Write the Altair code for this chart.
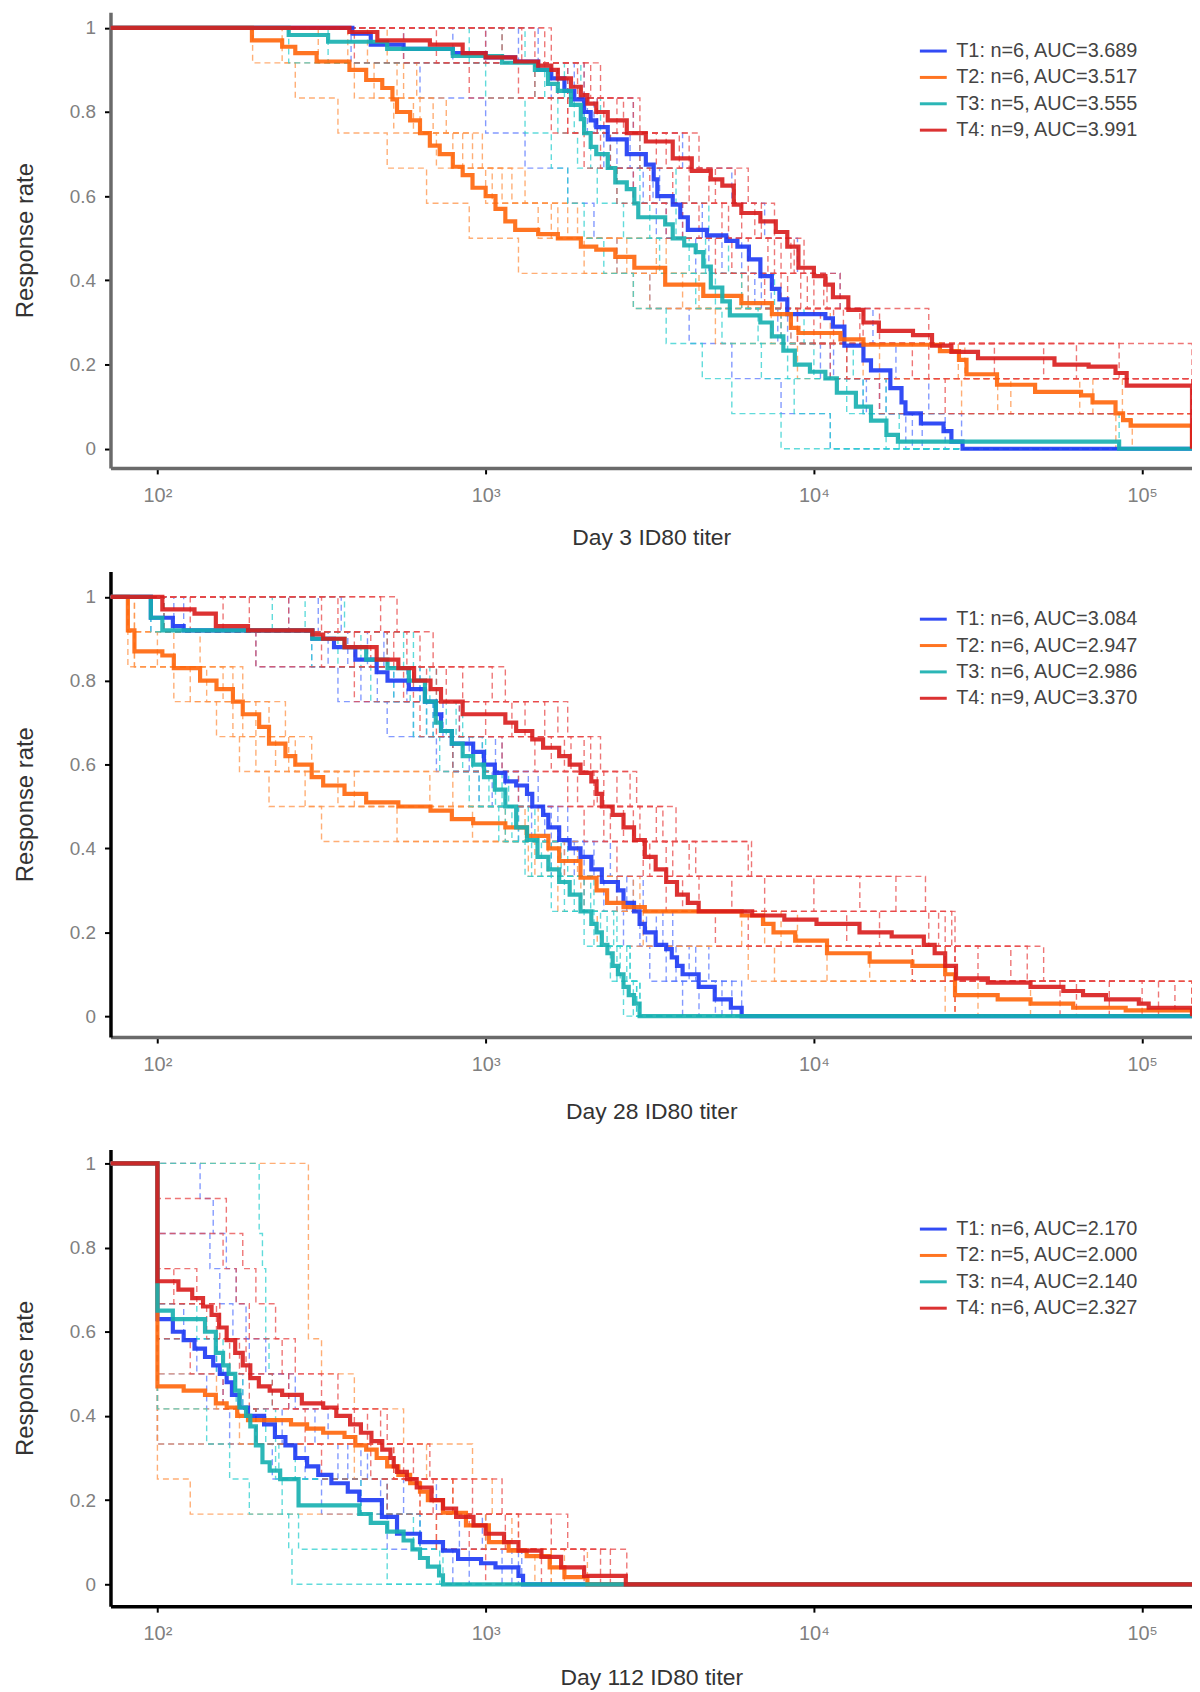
import altair as alt
import pandas as pd

# x positions are log10(ID80 titer); the plot spans these log10 limits
X_MIN, X_MAX = 1.857, 5.152

GROUPS = ["T1", "T2", "T3", "T4"]
MEAN_COLORS = ["#1c38f4", "#ff650a", "#15afaf", "#d81c1c"]
DASH_COLORS = ["#5a78ff", "#ff9347", "#2ccfcf", "#e84848"]

P1_LABELS = ["T1: n=6, AUC=3.689", "T2: n=6, AUC=3.517", "T3: n=5, AUC=3.555", "T4: n=9, AUC=3.991"]
P2_LABELS = ["T1: n=6, AUC=3.084", "T2: n=6, AUC=2.947", "T3: n=6, AUC=2.986", "T4: n=9, AUC=3.370"]
P3_LABELS = ["T1: n=6, AUC=2.170", "T2: n=5, AUC=2.000", "T3: n=4, AUC=2.140", "T4: n=6, AUC=2.327"]
X_TITLES = ["Day 3 ID80 titer", "Day 28 ID80 titer", "Day 112 ID80 titer"]

# ---------------- Panel 1 (Day 3): group curves (log10 titer at each drop, level after drop)
P1_T1_X = [2.594, 2.65, 2.75, 2.90, 3.00, 3.09, 3.16, 3.20, 3.24, 3.27, 3.30, 3.32, 3.337, 3.372, 3.43,
           3.488, 3.512, 3.523, 3.57, 3.593, 3.616, 3.674, 3.733, 3.767, 3.802, 3.837, 3.872, 3.895, 3.919,
           4.035, 4.058, 4.093, 4.151, 4.174, 4.233, 4.267, 4.279, 4.326, 4.395, 4.419, 4.453]
P1_T1_Y = [0.986, 0.96, 0.95, 0.94, 0.93, 0.92, 0.90, 0.88, 0.85, 0.83, 0.80, 0.78, 0.764, 0.735, 0.70,
           0.675, 0.64, 0.60, 0.58, 0.55, 0.52, 0.507, 0.494, 0.48, 0.45, 0.41, 0.38, 0.355, 0.32,
           0.31, 0.29, 0.245, 0.21, 0.186, 0.144, 0.11, 0.084, 0.06, 0.042, 0.017, 0.0]
P1_T2_X = [2.288, 2.38, 2.42, 2.485, 2.585, 2.636, 2.685, 2.716, 2.73, 2.77, 2.80, 2.83, 2.86, 2.90, 2.93,
           2.96, 3.00, 3.03, 3.06, 3.09, 3.16, 3.22, 3.29, 3.337, 3.395, 3.453, 3.547, 3.663, 3.779, 3.872,
           3.930, 3.953, 4.081, 4.151, 4.384, 4.442, 4.465, 4.558, 4.674, 4.814, 4.849, 4.919, 4.942, 4.965, 5.152]
P1_T2_Y = [0.97, 0.955, 0.94, 0.92, 0.90, 0.876, 0.857, 0.83, 0.80, 0.78, 0.75, 0.72, 0.70, 0.67, 0.65,
           0.62, 0.60, 0.57, 0.54, 0.52, 0.51, 0.50, 0.48, 0.473, 0.456, 0.43, 0.39, 0.363, 0.346, 0.32,
           0.287, 0.275, 0.26, 0.247, 0.232, 0.211, 0.177, 0.152, 0.135, 0.127, 0.11, 0.084, 0.068, 0.055, 0.0]
P1_T3_X = [2.40, 2.52, 2.70, 2.90, 3.05, 3.15, 3.19, 3.22, 3.26, 3.29, 3.30, 3.32, 3.337, 3.372, 3.395,
           3.43, 3.453, 3.465, 3.547, 3.57, 3.605, 3.64, 3.663, 3.686, 3.721, 3.744, 3.837, 3.872, 3.907,
           3.942, 3.988, 4.035, 4.07, 4.128, 4.174, 4.221, 4.256, 4.93]
P1_T3_Y = [0.983, 0.967, 0.95, 0.933, 0.917, 0.90, 0.867, 0.85, 0.817, 0.783, 0.75, 0.717, 0.70, 0.667, 0.633,
           0.617, 0.583, 0.55, 0.533, 0.50, 0.483, 0.467, 0.433, 0.383, 0.35, 0.317, 0.30, 0.267, 0.233,
           0.20, 0.183, 0.167, 0.133, 0.10, 0.067, 0.033, 0.017, 0.0]
P1_T4_X = [2.585, 2.67, 2.83, 2.93, 3.00, 3.09, 3.16, 3.20, 3.22, 3.26, 3.29, 3.31, 3.337, 3.372, 3.43,
           3.488, 3.57, 3.628, 3.686, 3.721, 3.756, 3.779, 3.837, 3.884, 3.919, 3.953, 4.0, 4.035, 4.058,
           4.105, 4.151, 4.198, 4.302, 4.36, 4.419, 4.5, 4.733, 4.837, 4.919, 4.953, 5.152]
P1_T4_Y = [0.99, 0.97, 0.96, 0.94, 0.93, 0.92, 0.91, 0.90, 0.88, 0.86, 0.84, 0.82, 0.80, 0.78, 0.75,
           0.73, 0.69, 0.66, 0.64, 0.625, 0.58, 0.56, 0.54, 0.515, 0.48, 0.43, 0.41, 0.39, 0.36,
           0.33, 0.30, 0.28, 0.27, 0.245, 0.23, 0.215, 0.20, 0.195, 0.18, 0.15, 0.0]

# Panel 1 individual animals: 12 log10 titers each
P1_T1_IND = [
    [2.59, 2.80, 3.00, 3.12, 3.25, 3.33, 3.40, 3.50, 3.62, 3.75, 3.90, 4.05],
    [3.10, 3.30, 3.45, 3.60, 3.75, 3.85, 3.95, 4.08, 4.18, 4.25, 4.35, 4.45],
    [2.75, 3.20, 3.30, 3.40, 3.48, 3.55, 3.68, 3.82, 3.92, 4.10, 4.22, 4.28],
    [3.16, 3.27, 3.33, 3.38, 3.51, 3.60, 3.78, 3.87, 3.93, 4.02, 4.15, 4.40],
    [2.90, 3.22, 3.31, 3.36, 3.45, 3.52, 3.64, 3.80, 3.89, 4.05, 4.16, 4.33],
    [3.00, 3.25, 3.34, 3.44, 3.53, 3.66, 3.72, 3.84, 3.90, 4.06, 4.20, 4.30],
]
P1_T2_IND = [
    [2.29, 2.42, 2.55, 2.70, 2.82, 2.95, 3.10, 3.45, 3.70, 3.95, 4.45, 4.92],
    [2.38, 2.60, 2.72, 2.85, 3.00, 3.20, 3.40, 3.60, 3.90, 4.10, 4.56, 5.152],
    [2.49, 2.66, 2.78, 2.90, 3.05, 3.25, 3.55, 3.80, 4.05, 4.44, 4.85, 5.152],
    [2.58, 2.73, 2.80, 2.93, 3.02, 3.16, 3.30, 3.50, 3.93, 4.20, 4.94, 5.152],
    [2.64, 2.75, 2.84, 2.96, 3.08, 3.22, 3.43, 3.65, 3.87, 4.15, 4.60, 4.97],
    [2.70, 2.79, 2.88, 2.99, 3.12, 3.28, 3.52, 3.78, 3.95, 4.46, 4.81, 5.152],
]
P1_T3_IND = [
    [2.40, 3.00, 3.12, 3.20, 3.25, 3.30, 3.36, 3.45, 3.55, 3.66, 3.75, 3.90],
    [2.52, 3.15, 3.22, 3.28, 3.34, 3.42, 3.53, 3.64, 3.72, 3.84, 3.94, 4.05],
    [2.95, 3.18, 3.27, 3.32, 3.40, 3.50, 3.62, 3.70, 3.83, 3.92, 4.10, 4.93],
    [3.05, 3.24, 3.30, 3.38, 3.47, 3.58, 3.67, 3.78, 3.90, 4.00, 4.15, 4.22],
    [3.12, 3.29, 3.35, 3.47, 3.58, 3.68, 3.74, 3.88, 3.97, 4.12, 4.22, 4.26],
]
P1_T4_IND = [
    [2.60, 2.95, 3.20, 3.30, 3.40, 3.55, 3.70, 3.85, 3.95, 4.05, 4.20, 5.152],
    [2.85, 3.10, 3.25, 3.35, 3.50, 3.65, 3.80, 3.92, 4.00, 4.10, 4.40, 5.152],
    [3.11, 3.15, 3.25, 3.38, 3.45, 3.60, 3.75, 3.90, 4.02, 5.152, 5.152, 5.152],
    [3.00, 3.22, 3.34, 3.47, 3.57, 3.72, 3.88, 3.98, 4.09, 4.35, 5.152, 5.152],
    [3.18, 3.30, 3.42, 3.55, 3.68, 3.78, 3.90, 4.00, 4.15, 4.70, 5.152, 5.152],
    [3.05, 3.28, 3.36, 3.52, 3.62, 3.74, 3.86, 3.96, 4.06, 4.30, 5.152, 5.152],
    [3.20, 3.32, 3.47, 3.59, 3.76, 3.84, 3.94, 4.04, 4.14, 4.55, 5.152, 5.152],
    [2.75, 3.25, 3.40, 3.62, 3.70, 3.82, 3.93, 4.03, 4.20, 4.80, 5.152, 5.152],
    [3.15, 3.35, 3.45, 3.65, 3.80, 3.88, 3.97, 4.08, 4.35, 4.93, 5.152, 5.152],
]

# ---------------- Panel 2 (Day 28)
P2_T1_X = [1.98, 2.047, 2.08, 2.472, 2.538, 2.603, 2.668, 2.701, 2.766, 2.815, 2.848, 2.864, 2.897, 2.962,
           2.995, 3.028, 3.06, 3.093, 3.126, 3.142, 3.175, 3.191, 3.224, 3.256, 3.289, 3.322, 3.354, 3.403,
           3.42, 3.452, 3.469, 3.485, 3.518, 3.55, 3.567, 3.583, 3.60, 3.649, 3.698, 3.747, 3.78]
P2_T1_Y = [0.95, 0.93, 0.92, 0.90, 0.88, 0.85, 0.82, 0.80, 0.78, 0.75, 0.72, 0.68, 0.65, 0.63,
           0.60, 0.58, 0.56, 0.55, 0.53, 0.50, 0.48, 0.45, 0.42, 0.40, 0.38, 0.35, 0.32, 0.30,
           0.27, 0.25, 0.22, 0.20, 0.17, 0.16, 0.14, 0.12, 0.10, 0.07, 0.04, 0.02, 0.0]
P2_T2_X = [1.91, 1.93, 2.015, 2.05, 2.13, 2.18, 2.23, 2.26, 2.31, 2.34, 2.39, 2.42, 2.47, 2.505, 2.57,
           2.636, 2.734, 2.832, 2.897, 2.962, 3.06, 3.126, 3.191, 3.224, 3.289, 3.338, 3.37, 3.42, 3.485,
           3.78, 3.845, 3.877, 3.943, 4.04, 4.17, 4.30, 4.40, 4.43, 4.56, 4.66, 4.79, 4.95, 5.152]
P2_T2_Y = [0.92, 0.87, 0.86, 0.83, 0.80, 0.78, 0.75, 0.72, 0.69, 0.65, 0.62, 0.60, 0.57, 0.55, 0.53,
           0.51, 0.50, 0.49, 0.47, 0.46, 0.45, 0.43, 0.40, 0.37, 0.33, 0.30, 0.27, 0.26, 0.25,
           0.24, 0.22, 0.20, 0.18, 0.15, 0.13, 0.12, 0.10, 0.05, 0.04, 0.03, 0.02, 0.014, 0.0]
P2_T3_X = [1.98, 2.015, 2.472, 2.57, 2.636, 2.701, 2.766, 2.815, 2.848, 2.864, 2.897, 2.93, 2.962, 2.995,
           3.028, 3.06, 3.093, 3.126, 3.158, 3.191, 3.224, 3.256, 3.289, 3.322, 3.338, 3.354, 3.371, 3.387,
           3.403, 3.42, 3.436, 3.452, 3.469]
P2_T3_Y = [0.95, 0.92, 0.90, 0.88, 0.85, 0.83, 0.80, 0.75, 0.70, 0.68, 0.65, 0.62, 0.60, 0.57,
           0.54, 0.50, 0.45, 0.42, 0.38, 0.35, 0.32, 0.29, 0.25, 0.22, 0.20, 0.17, 0.15, 0.12,
           0.10, 0.07, 0.05, 0.03, 0.0]
P2_T4_X = [2.015, 2.113, 2.178, 2.276, 2.472, 2.505, 2.57, 2.668, 2.734, 2.782, 2.832, 2.864, 2.93, 3.06,
           3.093, 3.142, 3.175, 3.224, 3.256, 3.289, 3.322, 3.338, 3.354, 3.387, 3.42, 3.452, 3.485, 3.518,
           3.55, 3.583, 3.616, 3.649, 3.812, 3.91, 4.008, 4.139, 4.237, 4.335, 4.368, 4.40, 4.433, 4.53,
           4.66, 4.76, 4.82, 4.89, 4.99, 5.02, 5.152]
P2_T4_Y = [0.97, 0.96, 0.93, 0.92, 0.91, 0.90, 0.88, 0.85, 0.83, 0.80, 0.78, 0.75, 0.72, 0.70,
           0.68, 0.66, 0.64, 0.62, 0.60, 0.58, 0.56, 0.53, 0.50, 0.48, 0.45, 0.42, 0.38, 0.35,
           0.32, 0.29, 0.27, 0.25, 0.24, 0.23, 0.22, 0.20, 0.19, 0.17, 0.15, 0.12, 0.09, 0.08,
           0.07, 0.06, 0.05, 0.04, 0.03, 0.02, 0.0]

P2_T1_IND = [
    [1.98, 2.30, 2.55, 2.70, 2.85, 2.98, 3.10, 3.20, 3.30, 3.42, 3.50, 3.60],
    [2.05, 2.47, 2.62, 2.78, 2.90, 3.02, 3.14, 3.24, 3.36, 3.47, 3.55, 3.65],
    [2.08, 2.52, 2.67, 2.82, 2.95, 3.06, 3.18, 3.27, 3.40, 3.49, 3.58, 3.78],
    [2.40, 2.58, 2.72, 2.84, 2.99, 3.10, 3.20, 3.30, 3.43, 3.52, 3.62, 3.70],
    [2.49, 2.64, 2.76, 2.87, 3.03, 3.13, 3.22, 3.33, 3.45, 3.54, 3.64, 3.75],
    [2.56, 2.69, 2.80, 2.92, 3.05, 3.16, 3.25, 3.38, 3.48, 3.57, 3.68, 3.72],
]
P2_T2_IND = [
    [1.91, 1.93, 2.05, 2.18, 2.25, 2.34, 2.50, 3.13, 3.22, 3.34, 3.80, 4.40],
    [1.91, 1.91, 2.10, 2.23, 2.30, 2.45, 2.73, 3.15, 3.29, 3.48, 3.88, 4.43],
    [1.91, 1.93, 2.15, 2.26, 2.36, 2.60, 2.96, 3.19, 3.30, 3.78, 4.04, 4.43],
    [1.91, 2.00, 2.20, 2.30, 2.40, 2.55, 3.06, 3.22, 3.40, 3.85, 4.17, 4.50],
    [1.93, 2.05, 2.23, 2.34, 2.42, 2.83, 3.12, 3.24, 3.45, 3.90, 4.30, 4.66],
    [1.93, 2.13, 2.26, 2.39, 2.47, 2.90, 3.16, 3.28, 3.47, 3.95, 4.40, 5.152],
]
P2_T3_IND = [
    [1.98, 2.47, 2.65, 2.78, 2.86, 2.95, 3.04, 3.12, 3.20, 3.30, 3.38, 3.42],
    [2.02, 2.55, 2.72, 2.82, 2.90, 2.98, 3.06, 3.14, 3.24, 3.33, 3.40, 3.47],
    [2.02, 2.62, 2.77, 2.84, 2.93, 3.01, 3.08, 3.17, 3.27, 3.35, 3.43, 3.45],
    [2.35, 2.70, 2.80, 2.88, 2.96, 3.03, 3.10, 3.20, 3.30, 3.37, 3.41, 3.46],
    [2.45, 2.75, 2.83, 2.91, 2.99, 3.05, 3.13, 3.23, 3.32, 3.39, 3.44, 3.47],
    [2.57, 2.78, 2.85, 2.93, 3.00, 3.07, 3.15, 3.25, 3.33, 3.40, 3.44, 3.46],
]
P2_T4_IND = [
    [2.02, 2.30, 2.60, 2.80, 2.90, 3.10, 3.30, 3.40, 3.55, 3.70, 4.30, 4.43],
    [2.10, 2.50, 2.75, 2.85, 3.05, 3.25, 3.36, 3.48, 3.60, 3.80, 4.40, 5.05],
    [2.20, 2.60, 2.78, 2.92, 3.15, 3.28, 3.38, 3.50, 3.65, 4.10, 4.43, 5.152],
    [2.28, 2.65, 2.82, 3.00, 3.20, 3.33, 3.42, 3.55, 3.75, 4.20, 4.50, 4.90],
    [2.40, 2.70, 2.85, 3.08, 3.24, 3.34, 3.45, 3.57, 3.85, 4.35, 4.60, 5.152],
    [2.50, 2.72, 2.88, 3.12, 3.26, 3.36, 3.47, 3.62, 4.00, 4.38, 4.43, 4.80],
    [2.55, 2.76, 2.93, 3.18, 3.30, 3.40, 3.52, 3.64, 4.14, 4.40, 4.70, 5.00],
    [2.68, 2.80, 3.02, 3.22, 3.32, 3.44, 3.54, 3.80, 4.25, 4.42, 4.43, 4.75],
    [2.73, 2.84, 3.06, 3.25, 3.35, 3.46, 3.58, 3.81, 4.34, 4.43, 4.65, 5.10],
]

# ---------------- Panel 3 (Day 112)
P3_T1_X = [2.0, 2.047, 2.08, 2.113, 2.145, 2.17, 2.19, 2.211, 2.227, 2.25, 2.276, 2.325, 2.358, 2.39,
           2.42, 2.456, 2.49, 2.53, 2.58, 2.615, 2.684, 2.73, 2.80, 2.87, 2.916, 2.986, 3.03, 3.10, 3.114]
P3_T1_Y = [0.63, 0.60, 0.58, 0.56, 0.54, 0.52, 0.50, 0.48, 0.45, 0.42, 0.40, 0.38, 0.35, 0.33,
           0.30, 0.28, 0.26, 0.24, 0.22, 0.20, 0.16, 0.12, 0.10, 0.08, 0.06, 0.05, 0.04, 0.02, 0.0]
P3_T2_X = [2.0, 2.08, 2.145, 2.178, 2.211, 2.243, 2.276, 2.407, 2.456, 2.505, 2.57, 2.603, 2.636, 2.668,
           2.70, 2.734, 2.77, 2.80, 2.824, 2.87, 2.94, 3.01, 3.07, 3.125, 3.195, 3.24, 3.31]
P3_T2_Y = [0.47, 0.46, 0.45, 0.43, 0.42, 0.40, 0.39, 0.38, 0.37, 0.36, 0.35, 0.33, 0.32, 0.30,
           0.28, 0.26, 0.24, 0.22, 0.20, 0.17, 0.14, 0.10, 0.08, 0.067, 0.04, 0.017, 0.0]
P3_T3_X = [2.0, 2.047, 2.145, 2.178, 2.20, 2.217, 2.237, 2.25, 2.27, 2.283, 2.30, 2.32, 2.342, 2.374,
           2.43, 2.615, 2.65, 2.70, 2.75, 2.777, 2.80, 2.824, 2.858, 2.87]
P3_T3_Y = [0.65, 0.63, 0.60, 0.55, 0.52, 0.50, 0.46, 0.42, 0.40, 0.375, 0.33, 0.29, 0.27, 0.25,
           0.1875, 0.167, 0.146, 0.125, 0.104, 0.083, 0.0625, 0.042, 0.021, 0.0]
P3_T4_X = [2.0, 2.064, 2.106, 2.139, 2.165, 2.188, 2.211, 2.237, 2.26, 2.283, 2.309, 2.342, 2.38, 2.44,
           2.505, 2.545, 2.587, 2.62, 2.652, 2.685, 2.71, 2.72, 2.73, 2.76, 2.79, 2.835, 2.87, 2.91,
           2.963, 3.0, 3.056, 3.1, 3.17, 3.23, 3.30, 3.427]
P3_T4_Y = [0.72, 0.70, 0.68, 0.66, 0.64, 0.61, 0.58, 0.55, 0.52, 0.49, 0.47, 0.46, 0.45, 0.43,
           0.42, 0.40, 0.38, 0.36, 0.34, 0.32, 0.30, 0.28, 0.267, 0.25, 0.23, 0.20, 0.18, 0.16,
           0.14, 0.12, 0.10, 0.08, 0.065, 0.04, 0.02, 0.0]

P3_T1_IND = [
    [2.00, 2.00, 2.00, 2.00, 2.00, 2.00, 2.00, 2.00, 2.62, 2.70, 2.80, 2.95],
    [2.00, 2.00, 2.00, 2.00, 2.00, 2.00, 2.15, 2.22, 2.35, 2.50, 2.70, 2.90],
    [2.00, 2.00, 2.00, 2.00, 2.00, 2.12, 2.20, 2.30, 2.45, 2.62, 2.80, 3.05],
    [2.00, 2.00, 2.00, 2.00, 2.08, 2.18, 2.26, 2.38, 2.55, 2.68, 2.92, 3.11],
    [2.00, 2.00, 2.16, 2.19, 2.23, 2.28, 2.40, 2.48, 2.58, 2.75, 2.99, 3.08],
    [2.13, 2.17, 2.21, 2.24, 2.27, 2.33, 2.42, 2.52, 2.64, 2.85, 3.00, 3.10],
]
P3_T2_IND = [
    [2.00, 2.00, 2.00, 2.00, 2.00, 2.00, 2.00, 2.00, 2.96, 3.02, 3.08, 3.15],
    [2.00, 2.00, 2.00, 2.00, 2.00, 2.00, 2.00, 2.00, 2.00, 2.10, 2.85, 3.20],
    [2.00, 2.00, 2.00, 2.00, 2.00, 2.00, 2.00, 2.25, 2.60, 2.80, 3.00, 3.31],
    [2.00, 2.00, 2.00, 2.00, 2.00, 2.00, 2.18, 2.30, 2.72, 2.90, 3.10, 3.24],
    [2.46, 2.46, 2.46, 2.46, 2.46, 2.50, 2.60, 2.75, 2.82, 2.90, 3.00, 3.20],
]
P3_T3_IND = [
    [2.00, 2.00, 2.00, 2.00, 2.00, 2.00, 2.00, 2.15, 2.22, 2.28, 2.43, 2.70],
    [2.00, 2.00, 2.00, 2.00, 2.00, 2.18, 2.24, 2.30, 2.36, 2.62, 2.78, 2.86],
    [2.00, 2.00, 2.00, 2.00, 2.12, 2.20, 2.26, 2.33, 2.42, 2.70, 2.80, 2.87],
    [2.31, 2.31, 2.32, 2.33, 2.33, 2.34, 2.35, 2.36, 2.37, 2.38, 2.40, 2.41],
]
P3_T4_IND = [
    [2.00, 2.00, 2.00, 2.00, 2.00, 2.10, 2.20, 2.30, 2.50, 2.70, 2.85, 3.00],
    [2.00, 2.00, 2.00, 2.00, 2.15, 2.22, 2.28, 2.45, 2.65, 2.80, 2.95, 3.17],
    [2.00, 2.00, 2.00, 2.05, 2.18, 2.25, 2.35, 2.60, 2.72, 2.84, 3.06, 3.30],
    [2.00, 2.00, 2.00, 2.12, 2.19, 2.27, 2.40, 2.64, 2.75, 2.90, 3.10, 3.43],
    [2.00, 2.00, 2.20, 2.24, 2.28, 2.38, 2.50, 2.68, 2.78, 2.96, 3.20, 3.35],
    [2.00, 2.21, 2.26, 2.30, 2.36, 2.42, 2.55, 2.70, 2.83, 3.05, 3.25, 3.38],
]

PANELS = [
    (1, P1_LABELS, [(P1_T1_X, P1_T1_Y, P1_T1_IND), (P1_T2_X, P1_T2_Y, P1_T2_IND),
                    (P1_T3_X, P1_T3_Y, P1_T3_IND), (P1_T4_X, P1_T4_Y, P1_T4_IND)]),
    (2, P2_LABELS, [(P2_T1_X, P2_T1_Y, P2_T1_IND), (P2_T2_X, P2_T2_Y, P2_T2_IND),
                    (P2_T3_X, P2_T3_Y, P2_T3_IND), (P2_T4_X, P2_T4_Y, P2_T4_IND)]),
    (3, P3_LABELS, [(P3_T1_X, P3_T1_Y, P3_T1_IND), (P3_T2_X, P3_T2_Y, P3_T2_IND),
                    (P3_T3_X, P3_T3_Y, P3_T3_IND), (P3_T4_X, P3_T4_Y, P3_T4_IND)]),
]


def mean_pts(xs, ys):
    pts = [(X_MIN, 1.0)] + list(zip(xs, ys))
    if pts[-1][0] < X_MAX:
        pts.append((X_MAX, pts[-1][1]))
    return pts


def indiv_pts(vals):
    v = sorted(vals)
    n = len(v)
    pts = [(X_MIN, 1.0)] + [(x, 1.0 - (k + 1) / n) for k, x in enumerate(v)]
    if pts[-1][0] < X_MAX:
        pts.append((X_MAX, pts[-1][1]))
    return pts


rows = []
for p, labels, groups in PANELS:
    for gi, (gx, gy, inds) in enumerate(groups):
        for j, vals in enumerate(inds):
            for i, (x, y) in enumerate(indiv_pts(vals)):
                rows.append({"panel": p, "kind": "ind", "cid": f"{gi}_{j}", "i": i, "x": x, "y": y,
                             "label": labels[gi], "dcol": DASH_COLORS[gi]})
        for i, (x, y) in enumerate(mean_pts(gx, gy)):
            rows.append({"panel": p, "kind": "mean", "cid": f"m{gi}", "i": i, "x": x, "y": y,
                         "label": labels[gi], "dcol": MEAN_COLORS[gi]})
df = pd.DataFrame(rows)

SUP = ("'10' + (datum.value == 2 ? '\u00b2' : datum.value == 3 ? '\u00b3' : "
       "datum.value == 4 ? '\u2074' : '\u2075')")


def make_panel(p, labels, xtitle, ydom, h, legend_y, title_pad, x_dom_color, y_dom_color):
    d = df[df.panel == p]
    xenc = alt.X("x:Q", scale=alt.Scale(domain=[X_MIN, X_MAX], nice=False, zero=False),
                 axis=alt.Axis(values=[2, 3, 4, 5], labelExpr=SUP, title=xtitle,
                               titlePadding=title_pad, labelFontSize=20, domainColor=x_dom_color))
    yenc = alt.Y("y:Q", scale=alt.Scale(domain=ydom, nice=False, zero=False),
                 axis=alt.Axis(values=[0, 0.2, 0.4, 0.6, 0.8, 1], format="~g", title="Response rate",
                               domainColor=y_dom_color))
    dashed = alt.Chart(d[d.kind == "ind"]).mark_line(
        interpolate="step-after", strokeWidth=1.4, strokeDash=[6, 4], opacity=0.75, clip=True
    ).encode(x=xenc, y=yenc, detail="cid:N", order="i:Q", color=alt.Color("dcol:N", scale=None))
    thick = alt.Chart(d[d.kind == "mean"]).mark_line(
        interpolate="step-after", strokeWidth=4.2, opacity=0.9, clip=True
    ).encode(
        x=xenc, y=yenc, detail="cid:N", order="i:Q",
        color=alt.Color("label:N", scale=alt.Scale(domain=labels, range=MEAN_COLORS),
                        legend=alt.Legend(orient="none", legendX=812, legendY=legend_y, title=None,
                                          symbolType="stroke", symbolStrokeWidth=3, symbolSize=729,
                                          labelFontSize=20, labelFont="Liberation Sans",
                                          labelColor="#444444", rowPadding=1.5, labelOffset=8,
                                          padding=0, labelLimit=400)))
    return alt.layer(dashed, thick).resolve_scale(color="independent").properties(width=1087, height=h)


p1 = make_panel(1, P1_LABELS, X_TITLES[0], [-0.0456, 1.037], 458, 24, 21, "#6a6a6a", "#6a6a6a")
p2 = make_panel(2, P2_LABELS, X_TITLES[1], [-0.0498, 1.0605], 468, 33, 26, "#6a6a6a", "black")
p3 = make_panel(3, P3_LABELS, X_TITLES[2], [-0.052, 1.033], 459, 65, 23, "black", "black")

top = alt.vconcat(p1, p2, spacing=22).resolve_scale(color="independent").resolve_legend(color="independent")
chart = (
    alt.vconcat(top, p3, spacing=26)
    .resolve_scale(color="independent")
    .resolve_legend(color="independent")
    .properties(padding={"left": 5, "top": 0, "right": 0, "bottom": 0})
    .configure_view(stroke=None)
    .configure_axis(domainWidth=3.5, tickColor="black", tickWidth=2, tickSize=6,
                    labelFont="Liberation Sans", labelFontSize=19, labelColor="#808080",
                    titleFont="Liberation Sans", titleFontSize=23, titleFontWeight="normal",
                    titleColor="#333333", grid=False)
    .configure_axisX(labelPadding=12)
    .configure_axisY(labelPadding=9, titlePadding=32, titleFontSize=24)
)

chart.save("out.html", embed_options={"renderer": "svg", "actions": False})
